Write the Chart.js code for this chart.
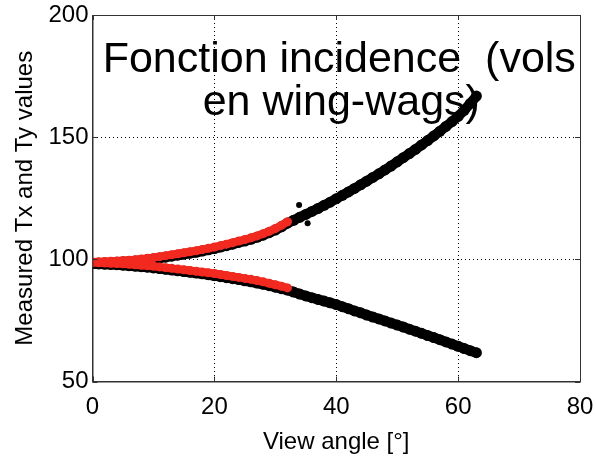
<!DOCTYPE html>
<html>
<head>
<meta charset="utf-8">
<script src="https://cdn.jsdelivr.net/npm/chart.js@4.4.1/dist/chart.umd.min.js"></script>
<style>
  html, body { margin: 0; padding: 0; background: #fff; }
  #wrap { width: 596px; height: 463px; }
</style>
</head>
<body>
<div id="wrap"><canvas id="myChart"></canvas></div>
<script>
// view angle in degrees, one sample per degree
const anglesAll = [
    0, 1, 2, 3, 4, 5, 6, 7, 8, 9, 10, 11, 12, 13, 14, 15, 16, 17, 18, 19,
    20, 21, 22, 23, 24, 25, 26, 27, 28, 29, 30, 31, 32, 33, 34, 35, 36, 37, 38, 39,
    40, 41, 42, 43, 44, 45, 46, 47, 48, 49, 50, 51, 52, 53, 54, 55, 56, 57, 58, 59,
    60, 61, 62, 63
];
const anglesRed = [
    0, 1, 2, 3, 4, 5, 6, 7, 8, 9, 10, 11, 12, 13, 14, 15, 16, 17, 18, 19,
    20, 21, 22, 23, 24, 25, 26, 27, 28, 29, 30, 31, 32
];

// measured Tx / Ty (all flights, black)
const txAll = [
    98.3, 98.4, 98.5, 98.6, 98.8, 98.9, 99.1, 99.3, 99.5, 99.8,
    100.1, 100.5, 100.9, 101.3, 101.7, 102.1, 102.5, 102.9, 103.4, 103.9,
    104.4, 105.0, 105.6, 106.2, 106.9, 107.5, 108.2, 109.0, 109.9, 110.9,
    112.0, 113.3, 114.8, 116.0, 117.2, 118.4, 119.6, 120.8, 122.1, 123.4,
    124.8, 126.2, 127.6, 129.0, 130.5, 132.0, 133.5, 135.0, 136.6, 138.2,
    139.9, 141.6, 143.3, 145.0, 146.8, 148.6, 150.5, 152.4, 154.4, 156.4,
    158.5, 161.0, 163.8, 166.8
];
const tyAll = [
    98.2, 98.1, 98.0, 97.9, 97.8, 97.6, 97.4, 97.2, 97.0, 96.8,
    96.5, 96.2, 95.9, 95.6, 95.3, 95.0, 94.7, 94.4, 94.1, 93.7,
    93.3, 92.9, 92.5, 92.1, 91.7, 91.2, 90.8, 90.3, 89.8, 89.2,
    88.6, 88.0, 87.4, 86.6, 85.8, 85.0, 84.3, 83.6, 82.9, 82.2,
    81.5, 80.6, 79.8, 78.9, 78.1, 77.2, 76.4, 75.6, 74.8, 73.9,
    73.1, 72.3, 71.4, 70.6, 69.7, 68.8, 68.0, 67.1, 66.2, 65.3,
    64.4, 63.5, 62.6, 61.8
];

// wing-wag flights (red)
const txRed = [
    98.9, 99.0, 99.1, 99.2, 99.3, 99.5, 99.6, 99.8, 100.1, 100.4,
    100.7, 101.1, 101.5, 101.9, 102.3, 102.7, 103.1, 103.5, 104.0, 104.5,
    105.0, 105.6, 106.2, 106.8, 107.5, 108.1, 108.8, 109.6, 110.5, 111.5,
    112.6, 113.9, 115.4
];
const tyRed = [
    98.7, 98.6, 98.5, 98.4, 98.3, 98.2, 98.0, 97.8, 97.6, 97.4,
    97.2, 96.9, 96.6, 96.3, 96.0, 95.7, 95.4, 95.1, 94.8, 94.5,
    94.2, 93.8, 93.4, 93.0, 92.6, 92.2, 91.8, 91.3, 90.8, 90.2,
    89.6, 89.0, 88.3
];

// a few stray samples off the main curves
const strayAngles = [33.9, 35.3];
const strayValues = [122.2, 114.8];

const xTicks = [0, 20, 40, 60, 80];
const yTicks = [50, 100, 150, 200];

const titleLines = ["Fonction incidence  (vols", "en wing-wags)"];

const FONT = "'Liberation Sans', Arial, Helvetica, sans-serif";

function toPoints(xs, ys) {
    return xs.map((x, i) => ({ x: x, y: ys[i] }));
}

function band(label, xs, ys, color, width, order) {
    return {
        label: label,
        data: toPoints(xs, ys),
        showLine: true,
        borderColor: color,
        borderWidth: width,
        backgroundColor: color,
        pointRadius: width / 2 + 0.5,
        pointBorderWidth: 0,
        pointBackgroundColor: color,
        order: order
    };
}

// box around the axes, inward tick marks and the overlaid title
const frame = {
    id: "frame",
    afterDatasetsDraw(chart) {
        const { ctx, chartArea: a, scales } = chart;
        ctx.save();
        ctx.strokeStyle = "#333";
        ctx.lineWidth = 1;
        ctx.strokeRect(a.left + 0.5, a.top + 0.5, a.right - a.left, a.bottom - a.top);
        ctx.beginPath();
        xTicks.forEach(v => {
            const px = Math.round(scales.x.getPixelForValue(v)) + 0.5;
            ctx.moveTo(px, a.bottom); ctx.lineTo(px, a.bottom - 5);
            ctx.moveTo(px, a.top); ctx.lineTo(px, a.top + 5);
        });
        yTicks.forEach(v => {
            const py = Math.round(scales.y.getPixelForValue(v)) + 0.5;
            ctx.moveTo(a.left, py); ctx.lineTo(a.left + 5, py);
            ctx.moveTo(a.right, py); ctx.lineTo(a.right - 5, py);
        });
        ctx.stroke();

        ctx.fillStyle = "#000";
        ctx.font = "43px " + FONT;
        ctx.textAlign = "center";
        ctx.textBaseline = "alphabetic";
        const cx = (a.left + a.right) / 2;
        ctx.fillText(titleLines[0], cx + 3, 72);
        ctx.fillText(titleLines[1], cx + 5, 115);
        ctx.restore();
    }
};

const ctx = document.getElementById("myChart").getContext("2d");
new Chart(ctx, {
    type: "scatter",
    data: {
        datasets: [
            band("Wing-wag Tx", anglesRed, txRed, "#f2291f", 8, 0),
            band("Wing-wag Ty", anglesRed, tyRed, "#f2291f", 8, 0),
            band("Tx", anglesAll, txAll, "#000000", 10, 1),
            band("Ty", anglesAll, tyAll, "#000000", 10, 1),
            {
                label: "stray",
                data: toPoints(strayAngles, strayValues),
                pointRadius: 3,
                pointBorderWidth: 0,
                pointBackgroundColor: "#000",
                order: 1
            }
        ]
    },
    options: {
        responsive: true,
        maintainAspectRatio: false,
        animation: false,
        layout: { padding: { top: 15, right: 16, left: 0, bottom: 0 } },
        plugins: {
            legend: { display: false },
            tooltip: { enabled: false }
        },
        scales: {
            x: {
                type: "linear",
                min: 0,
                max: 80,
                afterBuildTicks: s => { s.ticks = xTicks.map(v => ({ value: v })); },
                afterFit: s => {
                    s.height = 81.5;
                    s.paddingLeft = 0;
                    s.paddingRight = 0;
                },
                grid: { color: "#000", lineWidth: 1, drawTicks: false },
                border: { color: "#333", dash: [1, 3] },
                ticks: { color: "#000", font: { family: FONT, size: 24 }, padding: 11, maxRotation: 0 },
                title: {
                    display: true,
                    text: "View angle [°]",
                    color: "#000",
                    font: { family: FONT, size: 24 },
                    padding: { top: 0, bottom: 6 }
                }
            },
            y: {
                type: "linear",
                min: 50,
                max: 200,
                afterBuildTicks: s => { s.ticks = yTicks.map(v => ({ value: v })); },
                afterFit: s => {
                    s.width = 92.5;
                    s.paddingTop = 0;
                    s.paddingBottom = 0;
                },
                grid: { color: "#000", lineWidth: 1, drawTicks: false },
                border: { color: "#333", dash: [1, 3] },
                ticks: { color: "#000", font: { family: FONT, size: 24 }, padding: 4 },
                title: {
                    display: true,
                    text: "Measured Tx and Ty values",
                    color: "#000",
                    font: { family: FONT, size: 24 },
                    padding: { top: 11, bottom: 0 }
                }
            }
        }
    },
    plugins: [frame]
});
</script>
</body>
</html>
